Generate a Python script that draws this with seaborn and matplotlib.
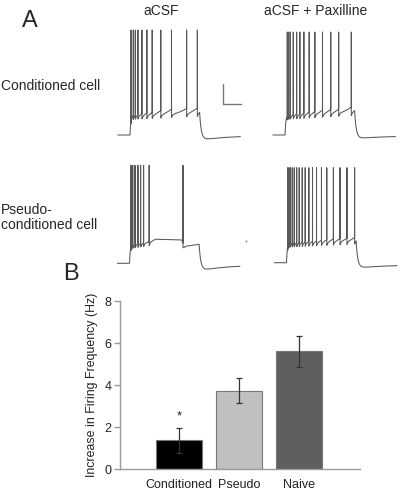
import numpy as np
import pandas as pd
import matplotlib
matplotlib.use("Agg")
import matplotlib.pyplot as plt
import seaborn as sns

# ---------------- Panel B data ----------------
groups = ["Conditioned", "Pseudo", "Naive"]
increase_hz = [1.37, 3.72, 5.60]
sem_hz = [0.60, 0.60, 0.72]
bar_colors = ["#000000", "#c0c0c0", "#5f5f5f"]
y_ticks = [0, 2, 4, 6, 8]
star_group = "Conditioned"

# ---------------- Panel A data ----------------
col_titles = ["aCSF", "aCSF + Paxilline"]
STEP_MS = 800  # current step duration (ms)
# spike times, ms after step onset
spikes_cond_acsf = [11, 38, 61, 91, 137, 194, 255, 354, 477, 651, 774]
spikes_cond_pax = [26, 42, 61, 95, 134, 171, 217, 278, 343, 431, 526, 617, 762]
spikes_pseudo_acsf = [17, 37, 63, 97, 128, 162, 226, 615]
spikes_pseudo_pax = [14, 29, 43, 66, 89, 117, 146, 181, 215, 257, 299, 345,
                     402, 463, 539, 615, 695, 783]
# plateau membrane potential anchors (ms, mV)
plat_cond_acsf_t, plat_cond_acsf_v = [0, 790], [-51, -48]
plat_cond_pax_t, plat_cond_pax_v = [0, 790], [-51, -47]
plat_pseudo_acsf_t = [0, 226, 300, 600, 625, 800]
plat_pseudo_acsf_v = [-52, -49, -46, -47.5, -53, -52]
plat_pseudo_pax_t, plat_pseudo_pax_v = [0, 790], [-51, -48]
# resting, spike peak, post-step undershoot, final level (mV)
levels_cond_acsf = (-70, 35, -74, -70.7)
levels_cond_pax = (-70, 33, -73, -71)
levels_pseudo_acsf = (-70, 28, -76, -71.7)
levels_pseudo_pax = (-70, 25, -74.6, -72.3)
artifact_dot = (1339, -47.7)
scalebar_ms, scalebar_mv = 200, 20

sns.set_theme(style="white")
plt.rcParams["font.family"] = ["Liberation Sans", "DejaVu Sans"]

W, H = 406, 492
fig = plt.figure(figsize=(W / 100, H / 100), dpi=100)


def px_axes(x0, y0, w, h):
    return fig.add_axes([x0 / W, 1 - (y0 + h) / H, w / W, h / H])


PX_PER_MS = 0.087


def build_trace(spk, plat_t, plat_v, levels, ramp=5.0, ahp=3.5):
    base, peak, under, end = levels
    t = np.arange(-140, 1270, 0.5)
    v = np.full_like(t, base, dtype=float)
    on = (t >= 0) & (t < STEP_MS)
    plat = np.interp(t, plat_t, plat_v)
    rise = 1 - np.exp(-np.clip(t, 0, None) / 8)
    v[on] = base + (plat[on] - base) * rise[on]
    edges = list(spk) + [STEP_MS]
    for a, b in zip(edges[:-1], edges[1:]):
        seg = (t > a) & (t < b)
        isi = b - a
        p = (t[seg] - a) / isi
        v[seg] += (-ahp * np.exp(-(t[seg] - a) / 12)
                   + ramp * min(1, isi / 120) * p ** 1.6)
    for s in spk:
        v[np.argmin(np.abs(t - s))] = peak
    off = t >= STEP_MS
    s = t[off] - STEP_MS
    v_off = v[np.argmax(off) - 1]
    f = (1 - np.exp(-s / 30)) * np.exp(-s / 300) / 0.715
    v[off] = end + (v_off - end) * np.exp(-s / 18) + (under - end) * f
    return t, v


trace_specs = [
    # onset_px, base_px, spikes, plateau, levels, ramp
    (130.0, 135.0, spikes_cond_acsf, plat_cond_acsf_t, plat_cond_acsf_v, levels_cond_acsf, 5.0),
    (285.0, 135.0, spikes_cond_pax, plat_cond_pax_t, plat_cond_pax_v, levels_cond_pax, 5.0),
    (129.5, 263.3, spikes_pseudo_acsf, plat_pseudo_acsf_t, plat_pseudo_acsf_v, levels_pseudo_acsf, 1.0),
    (286.5, 262.7, spikes_pseudo_pax, plat_pseudo_pax_t, plat_pseudo_pax_v, levels_pseudo_pax, 4.5),
]
trace_color = "#585858"
trace_axes = []
for onset_px, base_px, spk, pt, pv, lv, rmp in trace_specs:
    ax = px_axes(onset_px - 20, base_px - 115, 140, 130)
    ax.set_xlim(-20 / PX_PER_MS, 120 / PX_PER_MS)
    ax.set_ylim(lv[0] - 15, lv[0] + 115)
    ax.axis("off")
    ax.patch.set_visible(False)
    t, v = build_trace(spk, pt, pv, lv, ramp=rmp)
    sns.lineplot(x=t, y=v, ax=ax, color=trace_color, linewidth=0.75,
                 estimator=None, sort=False)
    trace_axes.append(ax)

# scale bar on the top-left trace
ax0 = trace_axes[0]
sb_t0, sb_v0 = 1072, -39
ax0.plot([sb_t0, sb_t0, sb_t0 + scalebar_ms],
         [sb_v0 + scalebar_mv, sb_v0, sb_v0], color="#777777", linewidth=1.0)
# small artifact dot in pseudo aCSF panel
trace_axes[2].plot([artifact_dot[0]], [artifact_dot[1]], marker="s",
                   markersize=0.5, color="#999999", linestyle="none")

# ---------------- Text for panel A ----------------
fig.text(21.5 / W, 1 - 26.7 / H, "A", fontsize=17, va="baseline", ha="left")
fig.text(161 / W, 1 - 15 / H, col_titles[0], fontsize=10, va="baseline", ha="center")
fig.text(315.7 / W, 1 - 15 / H, col_titles[1], fontsize=10, va="baseline", ha="center")
fig.text(1 / W, 1 - 90 / H, "Conditioned cell", fontsize=10, va="baseline", ha="left")
fig.text(1 / W, 1 - 214.3 / H, "Pseudo-", fontsize=10, va="baseline", ha="left")
fig.text(1 / W, 1 - 229.3 / H, "conditioned cell", fontsize=10, va="baseline", ha="left")
fig.text(63.3 / W, 1 - 280 / H, "B", fontsize=17, va="baseline", ha="left")

# ---------------- Panel B ----------------
axb = px_axes(120, 301, 240, 168)
df = pd.DataFrame({"group": groups, "hz": increase_hz})
sns.barplot(data=df, x="group", y="hz", hue="group", palette=bar_colors,
            legend=False, ax=axb, width=0.77, edgecolor="#777777",
            linewidth=0.8, errorbar=None)
axb.errorbar(range(len(groups)), increase_hz, yerr=sem_hz, fmt="none",
             ecolor="#333333", elinewidth=0.9, capsize=2.2, capthick=0.9)
axb.text(groups.index(star_group), 2.36, "*", ha="center", va="baseline",
         fontsize=9.5, color="#222222")
axb.set_xlim(-0.98, 3.02)
axb.set_ylim(0, 8)
axb.set_yticks(y_ticks)
axb.set_xlabel("")
axb.set_ylabel("Increase in Firing Frequency (Hz)", fontsize=8.9,
               color="#222222", labelpad=4.5)
for side in ["top", "right"]:
    axb.spines[side].set_visible(False)
for side in ["left", "bottom"]:
    axb.spines[side].set_color("#9a9a9a")
    axb.spines[side].set_linewidth(1.0)
axb.tick_params(axis="y", direction="out", length=4, width=1, color="#9a9a9a",
                labelsize=9, labelcolor="#222222", pad=2, left=True)
axb.tick_params(axis="x", length=0, labelsize=9, labelcolor="#222222", pad=7)
axb.patch.set_visible(False)

fig.savefig("out.png", dpi=100)
